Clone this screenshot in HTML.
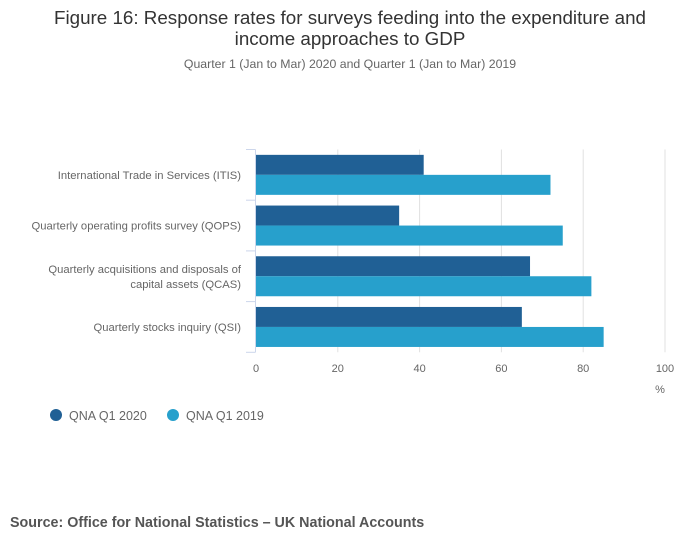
<!DOCTYPE html>
<html><head><meta charset="utf-8"><style>
body{margin:0;background:#fff;width:700px;height:549px;overflow:hidden;font-family:"Liberation Sans",sans-serif}
</style></head><body>
<svg width="700" height="549" xmlns="http://www.w3.org/2000/svg" font-family="Liberation Sans, sans-serif">
<text x="350" y="24" text-anchor="middle" font-size="18.8" fill="#333">Figure 16: Response rates for surveys feeding into the expenditure and</text>
<text x="350" y="45" text-anchor="middle" font-size="18.8" fill="#333">income approaches to GDP</text>
<text x="350" y="68" text-anchor="middle" font-size="12.3" fill="#666">Quarter 1 (Jan to Mar) 2020 and Quarter 1 (Jan to Mar) 2019</text>
<g id="grid"></g>
<g id="bars"></g>
<g id="axes"></g>
<text x="660" y="393" text-anchor="middle" font-size="11" fill="#666">%</text>
<circle cx="56" cy="415" r="6" fill="#206095"/>
<text x="69" y="420" font-size="12.5" fill="#666">QNA Q1 2020</text>
<circle cx="173" cy="415" r="6" fill="#27a0cc"/>
<text x="186" y="420" font-size="12.5" fill="#666">QNA Q1 2019</text>
<text x="10" y="527" font-size="14.3" font-weight="bold" fill="#555">Source: Office for National Statistics – UK National Accounts</text>
</svg>
<script>
const categories=[["International Trade in Services (ITIS)"],["Quarterly operating profits survey (QOPS)"],["Quarterly acquisitions and disposals of","capital assets (QCAS)"],["Quarterly stocks inquiry (QSI)"]];
const values2020=[41,35,67,65];
const values2019=[72,75,82,85];
const ticks=[0,20,40,60,80,100];
const NS="http://www.w3.org/2000/svg";
const x0=256,x1=665,yTop=149.5,band=50.7;
const xs=v=>x0+(x1-x0)*v/100;
function mk(tag,attrs,parent){const e=document.createElementNS(NS,tag);for(const k in attrs)e.setAttribute(k,attrs[k]);document.getElementById(parent).appendChild(e);return e;}
ticks.forEach(t=>{
 if(t>0){const g=mk('line',{x1:xs(t),x2:xs(t),y1:yTop,y2:yTop+band*4,stroke:'#e0e0e0'},'grid');
 
 }
 const l=mk('text',{x:xs(t),y:372,'text-anchor':'middle','font-size':11,fill:'#666'},'axes');
 l.textContent=t;
 
 
});
const ax=mk('line',{x1:255.5,x2:255.5,y1:yTop,y2:yTop+band*4,stroke:'#ccd6eb'},'axes');


for(let i=0;i<=4;i++){const t=mk('line',{x1:246,x2:255.5,y1:yTop+band*i,y2:yTop+band*i,stroke:'#ccd6eb'},'axes');
 
 }
categories.forEach((c,i)=>{
 const yc=yTop+band*i+band/2;
 const b1=mk('rect',{x:x0,y:yc-20,width:xs(values2020[i])-x0,height:20,fill:'#206095'},'bars');
 
 
 const b2=mk('rect',{x:x0,y:yc,width:xs(values2019[i])-x0,height:20,fill:'#27a0cc'},'bars');
 
 
 c.forEach((line,j)=>{
  const t=mk('text',{x:241,y:yc+4+(j-(c.length-1)/2)*15,'text-anchor':'end','font-size':11.25,fill:'#666'},'axes');
  t.textContent=line;
  
  
 });
});
</script>
</body></html>
